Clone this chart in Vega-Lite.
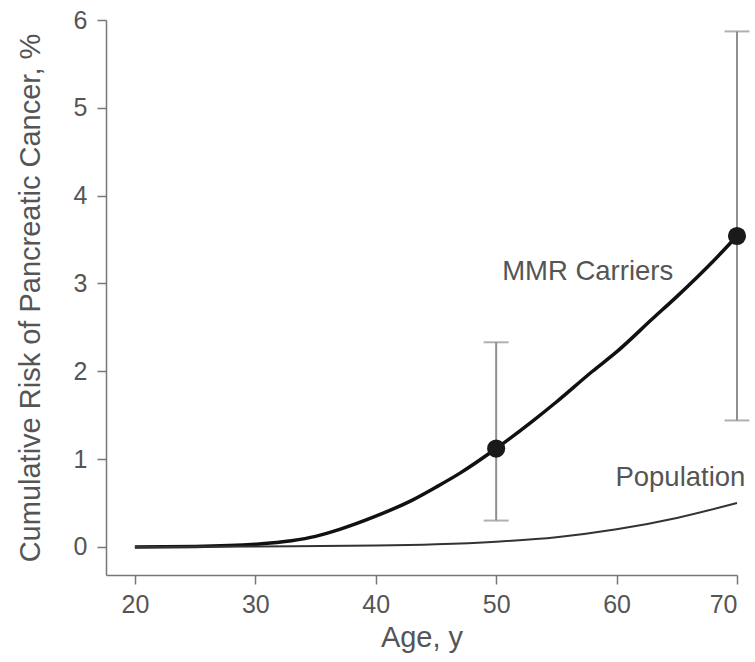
{
  "$schema": "https://vega.github.io/schema/vega-lite/v6.json",
  "width": 631,
  "height": 555,
  "autosize": {"type": "none"},
  "padding": {"left": 106, "top": 20, "right": 18, "bottom": 87},
  "background": "white",
  "config": {
    "view": {"stroke": null},
    "font": "Liberation Sans",
    "axis": {
      "domainColor": "#777",
      "domainWidth": 1.5,
      "tickColor": "#777",
      "tickWidth": 1.5,
      "tickSize": 9,
      "labelColor": "#555",
      "labelFontSize": 25,
      "labelFont": "Liberation Sans",
      "titleColor": "#555",
      "titleFontSize": 29,
      "titleFont": "Liberation Sans",
      "titleFontWeight": "normal",
      "grid": false
    }
  },
  "datasets": {
    "curves": [
      {"age": 20, "risk": 0, "group": "MMR Carriers"},
      {"age": 25, "risk": 0.005, "group": "MMR Carriers"},
      {"age": 30, "risk": 0.03, "group": "MMR Carriers"},
      {"age": 33, "risk": 0.07, "group": "MMR Carriers"},
      {"age": 35, "risk": 0.12, "group": "MMR Carriers"},
      {"age": 37, "risk": 0.2, "group": "MMR Carriers"},
      {"age": 40, "risk": 0.35, "group": "MMR Carriers"},
      {"age": 43, "risk": 0.53, "group": "MMR Carriers"},
      {"age": 45, "risk": 0.68, "group": "MMR Carriers"},
      {"age": 47, "risk": 0.84, "group": "MMR Carriers"},
      {"age": 50, "risk": 1.12, "group": "MMR Carriers"},
      {"age": 53, "risk": 1.43, "group": "MMR Carriers"},
      {"age": 55, "risk": 1.65, "group": "MMR Carriers"},
      {"age": 58, "risk": 2.0, "group": "MMR Carriers"},
      {"age": 60, "risk": 2.22, "group": "MMR Carriers"},
      {"age": 63, "risk": 2.6, "group": "MMR Carriers"},
      {"age": 65, "risk": 2.85, "group": "MMR Carriers"},
      {"age": 68, "risk": 3.25, "group": "MMR Carriers"},
      {"age": 70, "risk": 3.54, "group": "MMR Carriers"},
      {"age": 20, "risk": 0, "group": "Population"},
      {"age": 30, "risk": 0.005, "group": "Population"},
      {"age": 40, "risk": 0.015, "group": "Population"},
      {"age": 45, "risk": 0.03, "group": "Population"},
      {"age": 50, "risk": 0.06, "group": "Population"},
      {"age": 55, "risk": 0.11, "group": "Population"},
      {"age": 60, "risk": 0.2, "group": "Population"},
      {"age": 65, "risk": 0.33, "group": "Population"},
      {"age": 70, "risk": 0.5, "group": "Population"}
    ],
    "est": [
      {"age": 50, "risk": 1.12, "lo": 0.3, "hi": 2.33},
      {"age": 70, "risk": 3.54, "lo": 1.44, "hi": 5.87}
    ],
    "labels": [
      {"age": 57.6, "risk": 3.13, "label": "MMR Carriers"},
      {"age": 65.3, "risk": 0.78, "label": "Population"}
    ]
  },
  "layer": [
    {
      "data": {"name": "est"},
      "mark": {"type": "rule", "color": "#8f8f8f", "strokeWidth": 2},
      "encoding": {
        "x": {"field": "age", "type": "quantitative",
              "scale": {"domain": [17.6, 70], "nice": false, "zero": false},
              "axis": {"values": [20, 30, 40, 50, 60, 70], "format": "d", "title": "Age, y", "titlePadding": 6, "labelPadding": 8}},
        "y": {"field": "lo", "type": "quantitative",
              "scale": {"domain": [-0.32, 6], "nice": false, "zero": false},
              "axis": {"values": [0, 1, 2, 3, 4, 5, 6], "format": "d", "title": "Cumulative Risk of Pancreatic Cancer, %", "titlePadding": 28, "labelPadding": 10}},
        "y2": {"field": "hi"}
      }
    },
    {
      "data": {"name": "est"},
      "mark": {"type": "tick", "orient": "horizontal", "color": "#8f8f8f", "thickness": 2, "size": 25},
      "encoding": {
        "x": {"field": "age", "type": "quantitative"},
        "y": {"field": "lo", "type": "quantitative"}
      }
    },
    {
      "data": {"name": "est"},
      "mark": {"type": "tick", "orient": "horizontal", "color": "#8f8f8f", "thickness": 2, "size": 25},
      "encoding": {
        "x": {"field": "age", "type": "quantitative"},
        "y": {"field": "hi", "type": "quantitative"}
      }
    },
    {
      "data": {"name": "curves"},
      "mark": {"type": "line", "interpolate": "monotone"},
      "encoding": {
        "x": {"field": "age", "type": "quantitative"},
        "y": {"field": "risk", "type": "quantitative"},
        "detail": {"field": "group"},
        "color": {"field": "group", "type": "nominal", "scale": {"domain": ["MMR Carriers", "Population"], "range": ["#111111", "#333333"]}, "legend": null},
        "strokeWidth": {"field": "group", "type": "nominal", "scale": {"domain": ["MMR Carriers", "Population"], "range": [3.5, 2]}, "legend": null}
      }
    },
    {
      "data": {"name": "est"},
      "mark": {"type": "point", "filled": true, "color": "#1a1a1a", "size": 330, "opacity": 1},
      "encoding": {
        "x": {"field": "age", "type": "quantitative"},
        "y": {"field": "risk", "type": "quantitative"}
      }
    },
    {
      "data": {"name": "labels"},
      "mark": {"type": "text", "fontSize": 27.5, "color": "#555", "font": "Liberation Sans", "align": "center", "baseline": "middle"},
      "encoding": {
        "x": {"field": "age", "type": "quantitative"},
        "y": {"field": "risk", "type": "quantitative"},
        "text": {"field": "label"}
      }
    }
  ]
}
